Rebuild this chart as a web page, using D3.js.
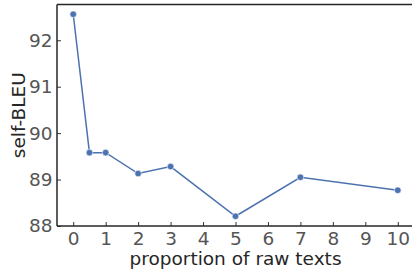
<!DOCTYPE html>
<meta charset="utf-8">
<script src="https://d3js.org/d3.v7.min.js"></script>
<style>
  body { margin: 0; background: #fff; }
  text { font-family: "DejaVu Sans", sans-serif; }
</style>
<div id="chart"></div>
<script>
// data
var proportions = [0, 0.5, 1, 2, 3, 5, 7, 10];
var selfBleu = [92.56, 89.58, 89.58, 89.13, 89.28, 88.21, 89.05, 88.77];
var xTicks = [0, 1, 2, 3, 4, 5, 6, 7, 8, 9, 10];
var yTicks = [88, 89, 90, 91, 92];

var W = 412, H = 269;
var margin = {top: 4.5, right: -2, bottom: 43, left: 57};
var width = W - margin.left - margin.right,
    height = H - margin.top - margin.bottom;

var svg = d3.select("#chart").append("svg")
    .attr("width", W)
    .attr("height", H);

var g = svg.append("g")
    .attr("transform", "translate(" + margin.left + "," + margin.top + ")");

var x = d3.scaleLinear().domain([-0.5, 10.5]).range([0, width]);
var y = d3.scaleLinear().domain([88, 92.77]).range([height, 0]);

// axes, ticks pointing inward
var xAxis = g.append("g")
    .attr("transform", "translate(0," + height + ")")
    .call(d3.axisBottom(x).tickValues(xTicks).tickSize(-4).tickPadding(5.5).tickFormat(d3.format("d")));

var yAxis = g.append("g")
    .call(d3.axisLeft(y).tickValues(yTicks).tickSize(-4).tickPadding(4.5).tickFormat(d3.format("d")));

[xAxis, yAxis].forEach(function(a) {
  a.select(".domain").remove();
  a.selectAll("line").attr("stroke", "#333").attr("stroke-width", 1);
  a.selectAll("text").attr("fill", "#555").style("font-size", "18.5px");
});

// spines: left, bottom, top
g.append("line").attr("x1", 0).attr("x2", 0).attr("y1", 0).attr("y2", height)
  .attr("stroke", "#262626").attr("stroke-width", 1.5);
g.append("line").attr("x1", 0).attr("x2", width).attr("y1", height).attr("y2", height)
  .attr("stroke", "#262626").attr("stroke-width", 1.5);
g.append("line").attr("x1", 0).attr("x2", width).attr("y1", 0).attr("y2", 0)
  .attr("stroke", "#262626").attr("stroke-width", 1.5);

var pts = proportions.map(function(p, i) { return {x: p, y: selfBleu[i]}; });

g.append("path")
  .datum(pts)
  .attr("fill", "none")
  .attr("stroke", "#4c72b0")
  .attr("stroke-width", 1.5)
  .attr("d", d3.line().x(function(d) { return x(d.x); }).y(function(d) { return y(d.y); }));

g.selectAll("circle.pt")
  .data(pts)
  .enter().append("circle")
  .attr("class", "pt")
  .attr("cx", function(d) { return x(d.x); })
  .attr("cy", function(d) { return y(d.y); })
  .attr("r", 3.3)
  .attr("fill", "#4c72b0")
  .attr("stroke", "#fff")
  .attr("stroke-width", 0.6);

// axis labels
svg.append("text")
  .attr("x", margin.left + width / 2)
  .attr("y", 265)
  .attr("text-anchor", "middle")
  .attr("fill", "#262626")
  .style("font-size", "18.5px")
  .text("proportion of raw texts");

svg.append("text")
  .attr("transform", "translate(25," + (margin.top + height / 2) + ") rotate(-90)")
  .attr("text-anchor", "middle")
  .attr("fill", "#262626")
  .style("font-size", "18.5px")
  .text("self-BLEU");
</script>
